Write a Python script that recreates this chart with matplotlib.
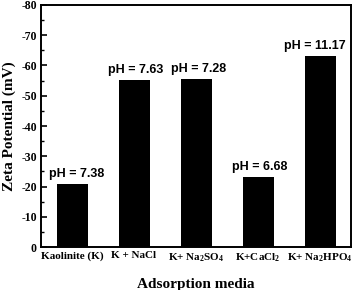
import matplotlib
matplotlib.use('Agg')
import matplotlib.pyplot as plt
from matplotlib.ticker import MultipleLocator

plt.rcParams['font.family'] = 'Liberation Serif'
plt.rcParams['font.weight'] = 'bold'
plt.rcParams['mathtext.fontset'] = 'custom'
plt.rcParams['mathtext.rm'] = 'Liberation Serif:bold'
plt.rcParams['mathtext.bf'] = 'Liberation Serif:bold'
plt.rcParams['mathtext.it'] = 'Liberation Serif:bold'
plt.rcParams['mathtext.default'] = 'bf'

media = ['Kaolinite (K)', 'K + NaCl', 'K+ Na$_2$SO$_4$', 'K+CaCl$_2$',
         'K+ Na$_2$HPO$_4$']
zeta = [-20.8, -55.3, -55.6, -23.1, -63.2]
ph = ['7.38', '7.63', '7.28', '6.68', '11.17']

fig = plt.figure(figsize=(3.56, 2.90), dpi=100)
ax = fig.add_axes([0.1152, 0.148, 0.8708, 0.835])

x = list(range(len(media)))
ax.bar(x, zeta, width=0.5, color='black')

# small horizontal nudges for the pH labels (points)
nudge = [3, 1, 1.5, 1, -4]
for xi, z, p, dx in zip(x, zeta, ph, nudge):
    ax.annotate('pH = ' + p, (xi, z), xytext=(dx, 3),
                textcoords='offset points', ha='center', va='bottom',
                family='Liberation Sans', fontweight='bold', fontsize=9)

ax.set_xlim(-0.5, 4.5)
ax.set_ylim(0, -80)
ax.yaxis.set_major_locator(MultipleLocator(10))
ax.yaxis.set_minor_locator(MultipleLocator(5))
ax.set_yticks(range(0, -90, -10))
ax.set_yticklabels([str(v) for v in range(0, -90, -10)])
ax.set_xticks(x)
ax.set_xticklabels(media)

ax.tick_params(axis='y', which='major', direction='in', length=4, width=1.2,
               labelsize=8.5, pad=3)
ax.tick_params(axis='y', which='minor', direction='in', length=2, width=1.0)
ax.tick_params(axis='x', length=0, labelsize=8, pad=3)

for s in ax.spines.values():
    s.set_linewidth(1.4)

ax.set_xlabel('Adsorption media', fontsize=11, fontweight='bold', labelpad=10)
ax.set_ylabel('Zeta Potential (mV)', fontsize=11, fontweight='bold',
              labelpad=4)

fig.savefig('out.png', dpi=100)
